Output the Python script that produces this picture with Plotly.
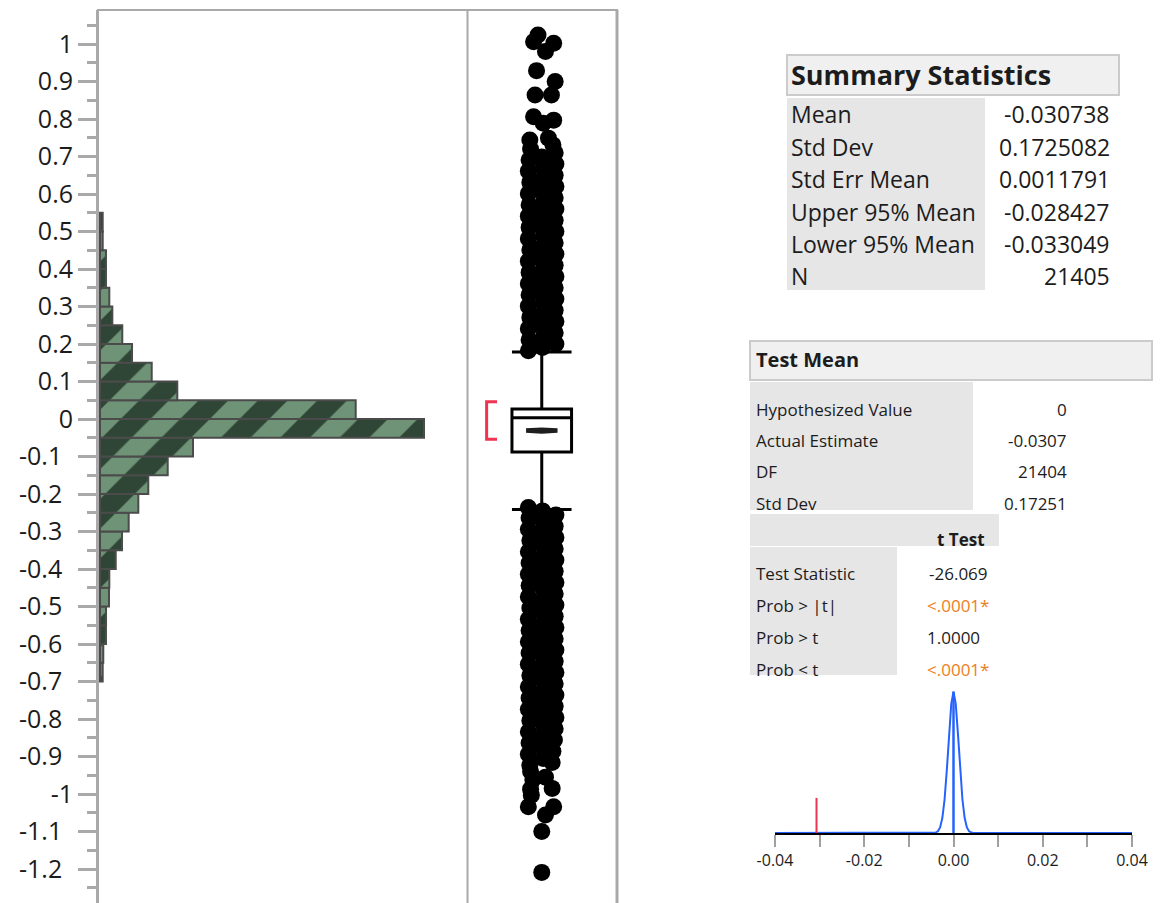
import plotly.graph_objects as go

W, H = 1165, 903

# ---------------- binned distribution ----------------
bin_lower = [-0.70, -0.65, -0.60, -0.55, -0.50, -0.45, -0.40, -0.35, -0.30, -0.25,
             -0.20, -0.15, -0.10, -0.05, 0.00, 0.05, 0.10, 0.15, 0.20, 0.25,
             0.30, 0.35, 0.40, 0.45, 0.50]
bin_counts = [50, 61, 111, 112, 167, 173, 292, 409, 533, 712,
              897, 1258, 1728, 6020, 4751, 1436, 961, 595, 414, 229,
              173, 111, 111, 50, 50]
BIN_WIDTH = 0.05

y_tick_vals = [-1.2, -1.1, -1.0, -0.9, -0.8, -0.7, -0.6, -0.5, -0.4, -0.3, -0.2, -0.1,
               0.0, 0.1, 0.2, 0.3, 0.4, 0.5, 0.6, 0.7, 0.8, 0.9, 1.0]
y_tick_text = ["-1.2", "-1.1", "-1", "-0.9", "-0.8", "-0.7", "-0.6", "-0.5", "-0.4",
               "-0.3", "-0.2", "-0.1", "0", "0.1", "0.2", "0.3", "0.4", "0.5", "0.6",
               "0.7", "0.8", "0.9", "1"]

# ---------------- outlier box plot ----------------
Q1, MEDIAN, Q3 = -0.088, 0.0035, 0.027
LOWER_WHISKER, UPPER_WHISKER = -0.241, 0.179
SHORTEST_HALF = (-0.054, 0.046)
MEAN, UPPER95, LOWER95 = -0.030738, -0.028427, -0.033049

upper_outliers = [0.182, 0.191, 0.200, 0.211, 0.219, 0.230, 0.241, 0.249, 0.260, 0.271,
                  0.279, 0.290, 0.301, 0.309, 0.320, 0.331, 0.339, 0.350, 0.361, 0.369,
                  0.380, 0.391, 0.399, 0.410, 0.421, 0.429, 0.440, 0.451, 0.459, 0.470,
                  0.481, 0.489, 0.500, 0.511, 0.519, 0.530, 0.541, 0.549, 0.560, 0.571,
                  0.579, 0.590, 0.601, 0.609, 0.620, 0.631, 0.639, 0.650, 0.661, 0.669,
                  0.680, 0.691, 0.699, 0.710, 0.720, 0.731,
                  0.744, 0.749, 0.789, 0.797, 0.806, 0.864, 0.864, 0.900, 0.929, 0.980,
                  1.002, 1.006, 1.024]
upper_jitter = [-0.18, 0.01, 0.19, -0.17, 0.02, 0.18, -0.18, 0.00, 0.19, -0.16,
                0.01, 0.18, -0.18, 0.02, 0.19, -0.17, 0.00, 0.18, -0.18, 0.01,
                0.19, -0.17, 0.02, 0.18, -0.18, 0.00, 0.19, -0.16, 0.01, 0.18,
                -0.18, 0.02, 0.19, -0.17, 0.00, 0.18, -0.18, 0.01, 0.19, -0.17,
                0.02, 0.18, -0.18, 0.00, 0.19, -0.16, 0.01, 0.18, -0.18, 0.02,
                0.19, -0.17, 0.00, 0.18, -0.15, 0.15,
                -0.16, 0.09, 0.02, 0.16, -0.11, 0.13, -0.09, 0.18, -0.07, 0.05,
                0.16, -0.11, -0.05]

lower_outliers = [-0.236, -0.245, -0.256, -0.264, -0.275, -0.286, -0.294, -0.305, -0.316, -0.324,
                  -0.335, -0.346, -0.354, -0.365, -0.376, -0.384, -0.395, -0.406, -0.414, -0.425,
                  -0.436, -0.444, -0.455, -0.466, -0.474, -0.485, -0.496, -0.504, -0.515, -0.526,
                  -0.534, -0.545, -0.556, -0.564, -0.575, -0.586, -0.594, -0.605, -0.616, -0.624,
                  -0.635, -0.646, -0.654, -0.665, -0.676, -0.684, -0.695, -0.706, -0.714, -0.725,
                  -0.736, -0.744, -0.755, -0.766, -0.774, -0.785, -0.796, -0.804, -0.815, -0.826,
                  -0.834, -0.845, -0.856, -0.864, -0.875, -0.886, -0.894, -0.905, -0.916, -0.924,
                  -0.940, -0.955, -0.962, -0.985, -0.987, -1.003, -1.034, -1.034, -1.056, -1.100,
                  -1.209]
lower_jitter = [-0.18, 0.01, 0.19, -0.17, 0.02, 0.18, -0.18, 0.00, 0.19, -0.16,
                0.01, 0.18, -0.18, 0.02, 0.19, -0.17, 0.00, 0.18, -0.18, 0.01,
                0.19, -0.17, 0.02, 0.18, -0.18, 0.00, 0.19, -0.16, 0.01, 0.18,
                -0.18, 0.02, 0.19, -0.17, 0.00, 0.18, -0.18, 0.01, 0.19, -0.17,
                0.02, 0.18, -0.18, 0.00, 0.19, -0.16, 0.01, 0.18, -0.18, 0.02,
                0.19, -0.17, 0.00, 0.18, -0.18, 0.01, 0.19, -0.16, 0.02, 0.18,
                -0.18, 0.00, 0.17, -0.17, 0.01, 0.15, -0.18, 0.02, 0.14, -0.16,
                -0.15, 0.05, -0.12, 0.14, -0.15, -0.14, -0.18, 0.16, 0.05, 0.00,
                0.00]

# ---------------- summary & test tables ----------------
summary_labels = ["Mean", "Std Dev", "Std Err Mean", "Upper 95% Mean", "Lower 95% Mean", "N"]
summary_values = ["-0.030738", "0.1725082", "0.0011791", "-0.028427", "-0.033049", "21405"]

test_labels = ["Hypothesized Value", "Actual Estimate", "DF", "Std Dev"]
test_values = ["0", "-0.0307", "21404", "0.17251"]

ttest_labels = ["Test Statistic", "Prob > |t|", "Prob > t", "Prob < t"]
ttest_values = ["-26.069", "<.0001*", "1.0000", "<.0001*"]
ttest_flagged = [False, True, False, True]

# ---------------- sampling distribution under H0 ----------------
dist_x = [-0.04, -0.005, -0.0045, -0.004, -0.0035, -0.003, -0.0025, -0.002, -0.0015, -0.001,
          -0.0005, 0.0, 0.0005, 0.001, 0.0015, 0.002, 0.0025, 0.003, 0.0035, 0.004,
          0.0045, 0.005, 0.04]
dist_y = [0.0, 0.03, 0.24, 1.1, 4.1, 13.2, 35.9, 80.2, 150.5, 236.8,
          309.2, 338.3, 309.2, 236.8, 150.5, 80.2, 35.9, 13.2, 4.1, 1.1,
          0.24, 0.03, 0.0]
HYPOTHESIZED = 0.0
ESTIMATE = -0.0307
dist_xticks = [-0.04, -0.03, -0.02, -0.01, 0.0, 0.01, 0.02, 0.03, 0.04]
dist_xtext = ["-0.04", "", "-0.02", "", "0.00", "", "0.02", "", "0.04"]

# ---------------- styling ----------------
FONT = "Open Sans"
TEXT = "#1c1c1c"
AXIS_GRAY = "#a9a9a9"
BAR_DARK = "#2f4636"
BAR_LIGHT = "#6f9377"
RED = "#ef3350"
BLUE = "#2563ff"
ORANGE = "#ee7d1c"
HEADER_BG = "#f0f0f0"
LABEL_BG = "#e6e6e6"


def px(x):
    return x / W


def py(y):
    return 1 - y / H


# pixel frame of the left plot
Y_TOP_PX = 10
Y_AT_ZERO_PX, PX_PER_UNIT = 419, 375
y_range = [(Y_AT_ZERO_PX - H) / PX_PER_UNIT, (Y_AT_ZERO_PX - Y_TOP_PX) / PX_PER_UNIT]

fig = go.Figure()

# histogram (horizontal bars)
bin_centers = [lo + BIN_WIDTH / 2 for lo in bin_lower]
fig.add_trace(go.Bar(
    x=bin_counts, y=bin_centers, width=BIN_WIDTH, orientation="h",
    marker=dict(color=BAR_DARK, line=dict(color="#4b4b4b", width=2),
                pattern=dict(shape="/", fgcolor=BAR_LIGHT, bgcolor=BAR_DARK,
                             size=42, solidity=0.5, fillmode="replace")),
    xaxis="x", yaxis="y", hoverinfo="skip",
))

# outlier points
fig.add_trace(go.Scatter(
    x=upper_jitter + lower_jitter, y=upper_outliers + lower_outliers,
    mode="markers", marker=dict(color="black", size=17, line=dict(width=0)),
    xaxis="x2", yaxis="y2", hoverinfo="skip",
))

# box with whiskers
fig.add_trace(go.Box(
    x=[0], q1=[Q1], median=[MEDIAN], q3=[Q3],
    lowerfence=[LOWER_WHISKER], upperfence=[UPPER_WHISKER],
    width=0.80, whiskerwidth=1, boxpoints=False,
    line=dict(color="black", width=3), fillcolor="white",
    xaxis="x2", yaxis="y2", hoverinfo="skip",
))

# mean diamond
DIAMOND_L, DIAMOND_R = -0.21, 0.21
dmid = (DIAMOND_L + DIAMOND_R) / 2
fig.add_trace(go.Scatter(
    x=[DIAMOND_L, dmid, DIAMOND_R, dmid, DIAMOND_L],
    y=[MEAN, UPPER95, MEAN, LOWER95, MEAN],
    mode="lines", fill="toself", fillcolor="#1e1e1e",
    line=dict(color="#1e1e1e", width=4.5),
    xaxis="x2", yaxis="y2", hoverinfo="skip",
))

# shortest half bracket
BR_X, BR_ARM = -0.74, -0.60
fig.add_trace(go.Scatter(
    x=[BR_ARM, BR_X, BR_X, BR_ARM],
    y=[SHORTEST_HALF[1], SHORTEST_HALF[1], SHORTEST_HALF[0], SHORTEST_HALF[0]],
    mode="lines", line=dict(color=RED, width=3),
    xaxis="x2", yaxis="y2", hoverinfo="skip",
))

# sampling distribution curve
fig.add_trace(go.Scatter(
    x=dist_x, y=dist_y, mode="lines", line=dict(color=BLUE, width=2),
    xaxis="x3", yaxis="y3", hoverinfo="skip",
))
fig.add_trace(go.Scatter(
    x=[HYPOTHESIZED, HYPOTHESIZED], y=[0, max(dist_y)], mode="lines",
    line=dict(color=BLUE, width=2.5), xaxis="x3", yaxis="y3", hoverinfo="skip",
))
EST_MARK_HEIGHT = 84
fig.add_trace(go.Scatter(
    x=[ESTIMATE, ESTIMATE], y=[0, EST_MARK_HEIGHT], mode="lines",
    line=dict(color=RED, width=2), xaxis="x3", yaxis="y3", hoverinfo="skip",
))

# ---------------- layout ----------------
PAD = "\u2009\u2009\u200a"
y_text = [t + PAD if (t.startswith("-") and "." in t) else t for t in y_tick_text]

count_per_px = 18.58
fig.update_layout(
    width=W, height=H, margin=dict(l=0, r=0, t=0, b=0, autoexpand=False),
    paper_bgcolor="white", plot_bgcolor="white", showlegend=False,
    font=dict(family=FONT, color=TEXT),
    xaxis=dict(domain=[px(99), px(467)], range=[-count_per_px, 367 * count_per_px],
               visible=False, fixedrange=True, automargin=False),
    yaxis=dict(domain=[0, py(Y_TOP_PX)], range=y_range, anchor="x", automargin=False,
               tickmode="array", tickvals=y_tick_vals, ticktext=y_text,
               ticks="outside", ticklen=18, tickwidth=3, tickcolor=AXIS_GRAY,
               tickfont=dict(size=25, color=TEXT, family=FONT),
               minor=dict(ticks="outside", ticklen=9, tickwidth=3, tickcolor=AXIS_GRAY,
                          tickmode="linear", tick0=0, dtick=0.05, showgrid=False),
               showline=True, linecolor=AXIS_GRAY, linewidth=3,
               showgrid=False, zeroline=False),
    xaxis2=dict(domain=[px(468), px(617)], range=[-0.99, 1.01], visible=False,
                automargin=False),
    yaxis2=dict(domain=[0, py(Y_TOP_PX)], range=y_range, anchor="x2", visible=False,
                automargin=False),
    xaxis3=dict(domain=[px(775), px(1132)], range=[-0.04, 0.04], anchor="y3",
                automargin=False,
                tickmode="array", tickvals=dist_xticks, ticktext=dist_xtext,
                ticks="outside", ticklen=12, tickwidth=2, tickcolor="#a0a0a0",
                tickfont=dict(size=16, color=TEXT, family=FONT),
                showline=True, linecolor="black", linewidth=2,
                showgrid=False, zeroline=False),
    yaxis3=dict(domain=[py(833), py(685)], range=[0, 354.3], anchor="x3", visible=False,
                automargin=False),
)

shapes = []
# frame of the left panels
shapes.append(dict(type="line", xref="paper", yref="paper", x0=px(97), x1=px(618),
                   y0=py(Y_TOP_PX), y1=py(Y_TOP_PX), line=dict(color=AXIS_GRAY, width=2)))
shapes.append(dict(type="line", xref="paper", yref="paper", x0=px(467.5), x1=px(467.5),
                   y0=0, y1=py(Y_TOP_PX), line=dict(color=AXIS_GRAY, width=2)))
shapes.append(dict(type="line", xref="paper", yref="paper", x0=px(617), x1=px(617),
                   y0=0, y1=py(Y_TOP_PX), line=dict(color=AXIS_GRAY, width=3)))


def rect(x0, y0, x1, y1, fill, line=None):
    d = dict(type="rect", xref="paper", yref="paper", x0=px(x0), x1=px(x1),
             y0=py(y1), y1=py(y0), fillcolor=fill, layer="below",
             line=dict(width=0) if line is None else line)
    shapes.append(d)


annotations = []


def text(x, y, s, size, anchor="left", color=TEXT, bold=False):
    annotations.append(dict(
        xref="paper", yref="paper", x=px(x), y=py(y), text=f"<b>{s}</b>" if bold else s,
        showarrow=False, xanchor=anchor, yanchor="middle",
        font=dict(family=FONT, size=size, color=color)))


# Summary Statistics
rect(787, 55, 1119, 95, HEADER_BG, dict(color="#cbcbcb", width=2))
text(789, 75, "Summary Statistics", 27, bold=True)
rect(787, 98, 985, 290, LABEL_BG)
summary_rows = [114, 147, 179, 212, 244, 276]
for lab, val, yy in zip(summary_labels, summary_values, summary_rows):
    text(789, yy, lab, 23)
    text(1112, yy, val, 23, anchor="right")

# Test Mean
rect(750, 341, 1152, 380, HEADER_BG, dict(color="#cbcbcb", width=2))
text(754, 360, "Test Mean", 20, bold=True)
rect(750, 382, 973, 510, LABEL_BG)
test_rows = [409, 440, 472, 503]
for lab, val, yy in zip(test_labels, test_values, test_rows):
    text(754, yy, lab, 17)
    text(1069, yy, val, 17, anchor="right")

rect(750, 514, 999, 546, LABEL_BG)
text(987, 539, "t Test", 17, anchor="right", bold=True)
rect(750, 547, 897, 675, LABEL_BG)
ttest_rows = [573, 605, 637, 669]
for lab, val, flag, yy in zip(ttest_labels, ttest_values, ttest_flagged, ttest_rows):
    text(754, yy, lab, 17)
    if val.startswith("-"):
        text(990, yy, val, 17, anchor="right")
    else:
        text(925, yy, val, 17, anchor="left", color=ORANGE if flag else TEXT)

fig.update_layout(shapes=shapes, annotations=annotations)

fig.write_html("out.html")
